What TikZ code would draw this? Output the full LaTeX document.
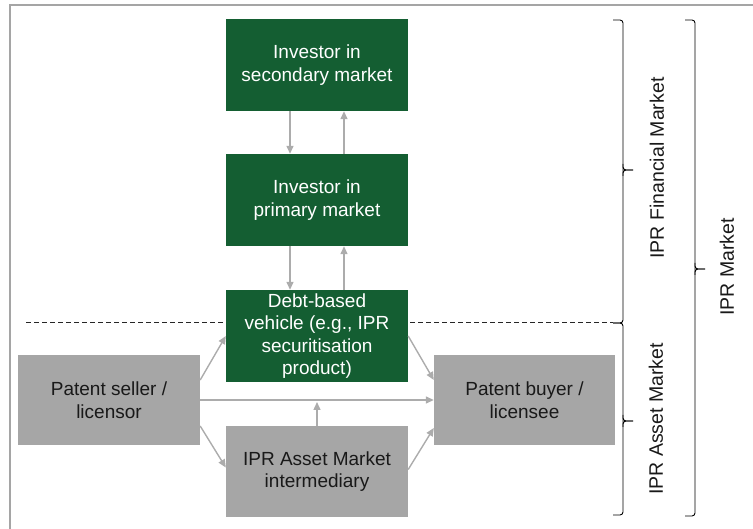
\documentclass[tikz,border=0pt]{standalone}
\usepackage{fontspec}
\setmainfont{Liberation Sans}
\usetikzlibrary{arrows.meta}
\definecolor{dgreen}{RGB}{20,94,50}
\definecolor{boxgray}{RGB}{166,166,166}
\definecolor{arrgray}{RGB}{172,172,172}
\definecolor{framegray}{RGB}{165,165,165}
\newcommand\bracepath[4]{%
  \draw[brc, rounded corners=3pt] (#1-10,#2) -- (#1,#2) -- (#1,#4) -- (#1-10,#4);
  \draw[brc, rounded corners=3pt] (#1,#3-6) -- (#1,#3) -- (#1+10,#3);
  \draw[brc, rounded corners=3pt] (#1,#3+6) -- (#1,#3) -- (#1+10,#3);}
\begin{document}
\begin{tikzpicture}[x=1pt, y=-1pt,
  boxbase/.style={inner sep=0pt, align=center, font=\fontsize{19}{22.5}\selectfont},
  greenbox/.style={boxbase, fill=dgreen, text=white, minimum width=182pt, minimum height=92pt},
  graybox/.style={boxbase, fill=boxgray, text=black!90, minimum width=182pt, minimum height=90pt},
  arr/.style={draw=arrgray, line width=1.4pt, -{Triangle[length=8pt,width=7pt]}},
  brc/.style={draw=black, line width=0.9pt},
  lbl/.style={font=\fontsize{19.5}{23}\selectfont, text=black!90, inner sep=0pt, rotate=90},
  sep/.style={draw=black!85, line width=1pt, dash pattern=on 5pt off 3pt},
  frm/.style={draw=framegray, line width=2pt}]
\useasboundingbox (0,0) rectangle (753,529);
\draw[frm] (10,540) -- (10,5) -- (760,5);
\draw[sep] (26,323) -- (613,323);
% boxes
\node[greenbox] (sec) at (317,65) {Investor in\\secondary market};
\node[greenbox] (pri) at (317,200) {Investor in\\primary market};
\node[greenbox] (debt) at (317,336) {Debt-based\\vehicle (e.g., IPR\\securitisation\\product)};
\node[graybox, minimum height=91pt] (inter) at (317,471.5) {IPR Asset Market\\intermediary};
\node[graybox] (seller) at (109,400) {Patent seller /\\licensor};
\node[graybox, minimum width=181pt] (buyer) at (524.5,400) {Patent buyer /\\licensee};
% arrows
\draw[arr] ([xshift=-27pt]sec.south) -- ([xshift=-27pt]pri.north);
\draw[arr] ([xshift=27pt]pri.north) -- ([xshift=27pt]sec.south);
\draw[arr] ([xshift=-27pt]pri.south) -- ([xshift=-27pt]debt.north);
\draw[arr] ([xshift=27pt]debt.north) -- ([xshift=27pt]pri.south);
\draw[arr] ([yshift=20pt]seller.east) -- (debt.west);
\draw[arr] ([yshift=-26pt]seller.east) -- ([yshift=4pt]inter.west);
\draw[arr] (seller.east) -- (buyer.west);
\draw[arr] (debt.east) -- ([yshift=20pt]buyer.west);
\draw[arr] ([yshift=2pt]inter.east) -- ([yshift=-28pt]buyer.west);
\coordinate (hm) at (inter.north |- seller.east);
\draw[arr] (inter.north) -- ([yshift=-2pt]hm);
% braces
\bracepath{623}{20}{170}{323}
\bracepath{623}{323}{421}{515}
\bracepath{695}{20}{269}{516}
\node[lbl] (lf) at (657,168) {IPR Financial Market};
\node[lbl] (la) at (656,419) {IPR Asset Market};
\node[lbl] (lm) at (727,267) {IPR Market};
\end{tikzpicture}
\end{document}
